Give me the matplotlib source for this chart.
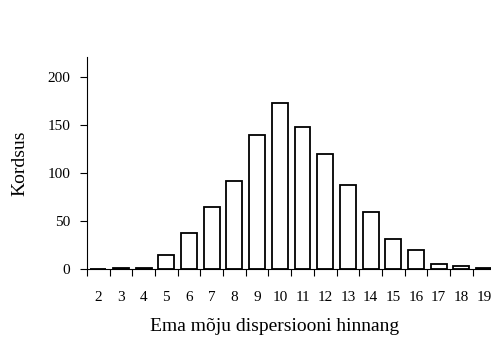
import matplotlib
matplotlib.use('Agg')
import matplotlib.pyplot as plt
import numpy as np

# kategooriad ja sagedused
categories = [str(i) for i in range(2, 20)]
counts = [0, 1, 1, 15, 37, 65, 92, 139, 172, 148, 120, 87, 59, 31, 20, 5, 3, 1]

plt.rcParams['font.family'] = ['Liberation Serif', 'DejaVu Serif']

fig = plt.figure(figsize=(4.91, 3.45), dpi=100)
ax = fig.add_axes([0.177, 0.22, 0.832, 0.614])

x = np.arange(len(categories))
ax.bar(x, counts, width=0.7, color='white', edgecolor='black', linewidth=1.3)

ax.set_xlim(-0.5, len(categories) - 0.5)
ax.set_ylim(0, 220)
ax.set_yticks([0, 50, 100, 150, 200])
ax.set_xticks(x)
ax.set_xticklabels(categories)
ax.set_xticks(np.arange(len(categories) + 1) - 0.5, minor=True)

ax.tick_params(axis='y', direction='out', length=5, width=0.8, pad=7, labelsize=11)
ax.tick_params(axis='x', which='major', length=0, pad=16, labelsize=11)
ax.tick_params(axis='x', which='minor', direction='out', length=5, width=0.8)

for s in ['top', 'right']:
    ax.spines[s].set_visible(False)
ax.spines['left'].set_linewidth(0.8)
ax.spines['bottom'].set_linewidth(0.8)

ax.set_ylabel('Kordsus', fontsize=14, labelpad=14)
ax.set_xlabel('Ema mõju dispersiooni hinnang', fontsize=14, labelpad=6)
ax.xaxis.set_label_coords(0.46, -0.23)

fig.savefig('out.png', dpi=100)
